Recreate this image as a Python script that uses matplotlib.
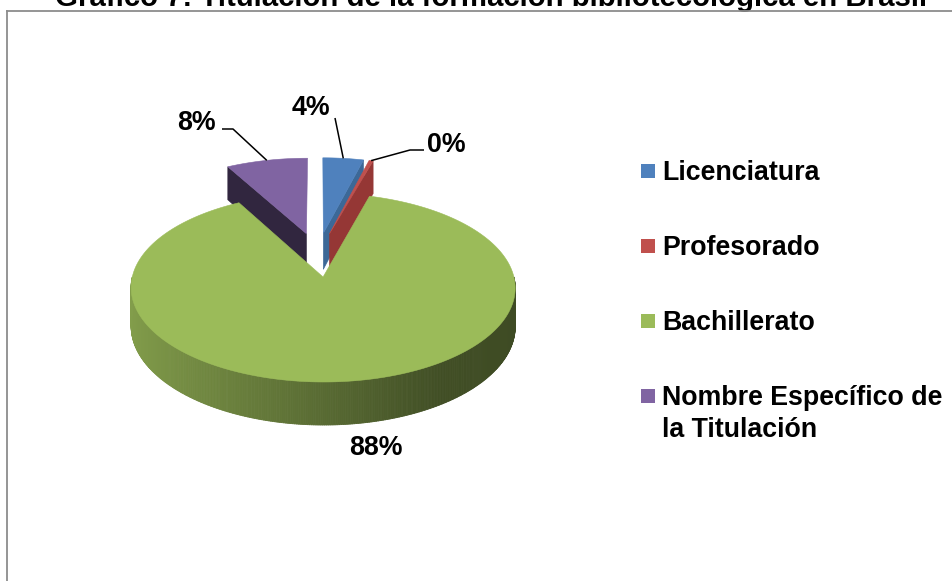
import textwrap
import numpy as np
import matplotlib
matplotlib.use("Agg")
import matplotlib.pyplot as plt
from matplotlib.patches import Polygon, Rectangle
from matplotlib.collections import PolyCollection
import matplotlib.colors as mcolors

# ---------------- data ----------------
title = "Gráfico 7: Titulación de la formación bibliotecológica en Brasil"
categories = ["Licenciatura", "Profesorado", "Bachillerato",
              "Nombre Específico de la Titulación"]
values = [4.0, 0.4, 87.6, 8.0]

# ---------------- styles ----------------
top_colors = ["#4F81BD", "#C0504D", "#9BBB59", "#8064A2"]
side_colors = ["#3C6897", "#953735", "#76923C", "#31263F"]
FONT = "Liberation Sans"
FS = 19.3
TITLE_FS = 21.2

# label layout (pixel positions, baseline) and leader elbows
label_pos = [(311, 115), (446, 152), (376, 455), (196, 130)]
leader_via = [[(335, 118)], [(410, 150), (424, 150)], None, [(233, 129), (222, 129)]]

# pseudo-3D projection parameters (pixels)
CX, CY, RX, A, K, DEPTH, EXPLODE = 317.7, 254.5, 185.6, 88.1, 0.11, 37.1, 0.25

W, H = 952, 581
fig = plt.figure(figsize=(W / 100, H / 100), dpi=100)
ax = fig.add_axes([0, 0, 1, 1])
ax.set_xlim(0, W)
ax.set_ylim(H, 0)
ax.axis("off")


def proj(X, Y, h=0.0):
    X = np.asarray(X, float)
    Y = np.asarray(Y, float)
    den = 1 + K * Y
    return CX + RX * X / den, CY + (-A * Y + h) / den


def shade(color, f):
    r, g, b = mcolors.to_rgb(color)
    return (r * f, g * f, b * f)


total = float(sum(values))
angles = []
start = 90.0
for v in values:
    span = 360.0 * v / total
    angles.append((start, start - span))  # (hi, lo) clockwise
    start -= span

slices = []
for i, (hi, lo) in enumerate(angles):
    bis = np.radians((hi + lo) / 2)
    ox, oy = EXPLODE * np.cos(bis), EXPLODE * np.sin(bis)
    slices.append(dict(i=i, hi=hi, lo=lo, bis=bis, ox=ox, oy=oy))

order = sorted(slices, key=lambda s: -np.sin(s["bis"]))
z = 2
for s in order:
    i, hi, lo, ox, oy = s["i"], s["hi"], s["lo"], s["ox"], s["oy"]
    n = max(3, int(abs(hi - lo) * 2))
    t = np.radians(np.linspace(hi, lo, n))
    ex, ey = ox + np.cos(t), oy + np.sin(t)
    # outer wall (front half only)
    quads, cols = [], []
    for j in range(n - 1):
        tm = 0.5 * (t[j] + t[j + 1])
        if np.sin(tm) < 0:
            x1, y1 = proj(ex[j], ey[j])
            x2, y2 = proj(ex[j + 1], ey[j + 1])
            x3, y3 = proj(ex[j + 1], ey[j + 1], DEPTH)
            x4, y4 = proj(ex[j], ey[j], DEPTH)
            quads.append([(x1, y1), (x2, y2), (x3, y3), (x4, y4)])
            f = np.interp(np.cos(tm), [-1, 0.55, 1], [0.84, 0.42, 0.40])
            cols.append(shade(top_colors[i], f))
    if quads:
        pc = PolyCollection(quads, facecolors=cols, edgecolors=cols,
                            linewidths=0.6, zorder=z)
        ax.add_collection(pc)
    z += 1
    # radial faces
    for ang, visible in ((hi, np.cos(np.radians(hi)) < -0.05),
                         (lo, np.cos(np.radians(lo)) > 0.05)):
        if not visible:
            continue
        a = np.radians(ang)
        px, py = ox + np.cos(a), oy + np.sin(a)
        pts = [proj(ox, oy), proj(px, py), proj(px, py, DEPTH), proj(ox, oy, DEPTH)]
        ax.add_patch(Polygon([(float(p[0]), float(p[1])) for p in pts],
                             closed=True, facecolor=side_colors[i],
                             edgecolor=side_colors[i], lw=0.4, zorder=z))
        z += 1
    # top face
    xs, ys = proj(np.concatenate([[ox], ex]), np.concatenate([[oy], ey]))
    ax.add_patch(Polygon(np.column_stack([xs, ys]), closed=True,
                         facecolor=top_colors[i], edgecolor=top_colors[i],
                         lw=0.4, zorder=z))
    z += 1

# data labels with leader lines
for s in slices:
    i = s["i"]
    lx, ly = label_pos[i]
    ax.text(lx, ly, f"{values[i]:.0f}%", ha="center", va="baseline",
            fontsize=FS, fontweight="bold", family=FONT, color="black", zorder=50)
    if leader_via[i]:
        bx, by = proj(s["ox"] + np.cos(s["bis"]), s["oy"] + np.sin(s["bis"]))
        path = [(float(bx), float(by))] + leader_via[i]
        ax.plot([p[0] for p in path], [p[1] for p in path], color="black",
                lw=1.1, zorder=49, solid_capstyle="butt")

# legend
leg_x, leg_y0, leg_dy, line_h = 641, 180, 75, 32
for i, name in enumerate(categories):
    by = leg_y0 + i * leg_dy
    ax.add_patch(Rectangle((leg_x, by - 16), 14, 14, facecolor=top_colors[i],
                           edgecolor="none", zorder=50))
    lines = textwrap.wrap(name, 21)
    for k, line in enumerate(lines):
        ax.text(leg_x + 21, by + k * line_h, line, ha="left", va="baseline",
                fontsize=FS, fontweight="bold", family=FONT, zorder=50)

# title (partially cut by the top edge, as in the reference)
ax.text(491, 6, title, ha="center", va="baseline", fontsize=TITLE_FS,
        fontweight="bold", family=FONT, zorder=50, clip_on=False)

# chart area frame
ax.plot([7, 7], [H + 5, 11], color="#8c8c8c", lw=1.3, zorder=60)
ax.plot([7, W + 5], [11, 11], color="#8c8c8c", lw=1.3, zorder=60)

fig.savefig("out.png", dpi=100, facecolor="white")
